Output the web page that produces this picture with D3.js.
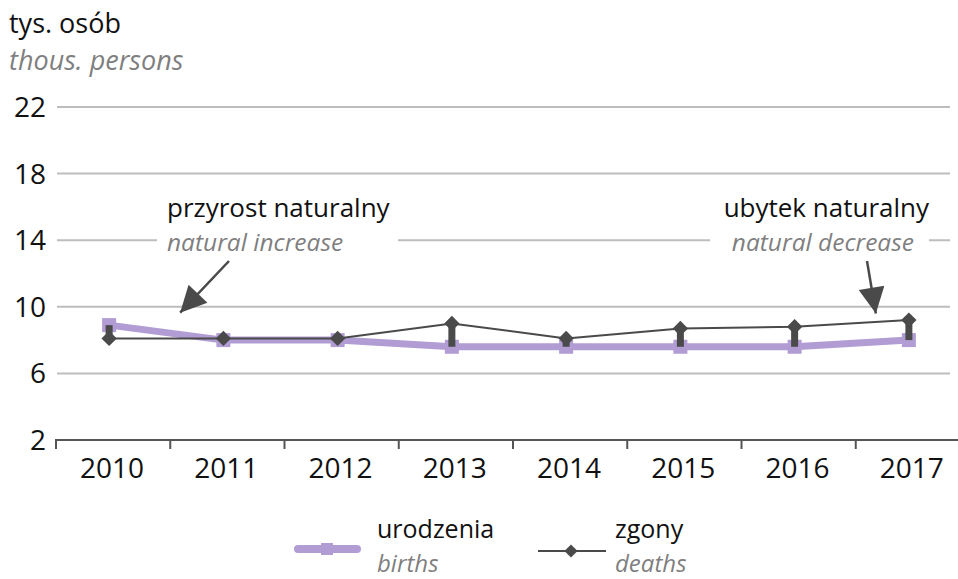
<!DOCTYPE html>
<html>
<head>
<meta charset="utf-8">
<script src="https://cdn.jsdelivr.net/npm/d3@7"></script>
<style>
  html, body { margin: 0; padding: 0; background: #fff; }
  svg text { font-family: "Open Sans", "Noto Sans", sans-serif; }
</style>
</head>
<body>
<svg id="chart" width="958" height="579"></svg>
<script>
// Births and deaths, thousands of persons
const years = ["2010", "2011", "2012", "2013", "2014", "2015", "2016", "2017"];
const births = [8.9, 8.0, 8.0, 7.6, 7.6, 7.6, 7.6, 8.0];
const deaths = [8.1, 8.1, 8.1, 9.0, 8.1, 8.7, 8.8, 9.2];
const yTicks = [2, 6, 10, 14, 18, 22];

const birthColor = "#b19dd4";
const deathColor = "#4a4a4a";
const gridColor = "#bdbdbd";
const grayText = "#7f7f7f";

const svg = d3.select("#chart");

const x = d3.scaleBand().domain(years).range([52, 966]);
const y = d3.scaleLinear().domain([2, 22]).range([440, 107]);
const cx = d => x(d) + x.bandwidth() / 2;

// Title
svg.append("text").attr("x", 9).attr("y", 33).attr("font-size", 27).attr("fill", "#111").text("tys. osób");
svg.append("text").attr("x", 9).attr("y", 70).attr("font-size", 27).attr("font-style", "italic").attr("fill", grayText).text("thous. persons");

// Horizontal gridlines (the baseline is drawn by the axis)
const grid = svg.append("g");
grid.selectAll("line").data(yTicks.filter(t => t !== 2)).join("line")
  .attr("x1", 57).attr("x2", 950)
  .attr("y1", d => y(d)).attr("y2", d => y(d))
  .attr("stroke", gridColor).attr("stroke-width", 2);

// Y tick labels
svg.append("g").selectAll("text").data(yTicks).join("text")
  .attr("x", 46).attr("y", d => y(d)).attr("dy", "0.36em")
  .attr("text-anchor", "end").attr("font-size", 28).attr("fill", "#111")
  .text(d => d);

// X axis along the baseline, ticks between categories
const xAxis = svg.append("g").attr("transform", `translate(0,${y(2)})`);
xAxis.append("line").attr("x1", 55).attr("x2", 958).attr("stroke", "#555").attr("stroke-width", 2);
xAxis.selectAll("line.tick").data(years).join("line").attr("class", "tick")
  .attr("x1", d => x(d) + 4).attr("x2", d => x(d) + 4)
  .attr("y1", 0).attr("y2", 9).attr("stroke", "#555").attr("stroke-width", 2);
xAxis.selectAll("text").data(years).join("text")
  .attr("x", d => cx(d) + 3).attr("y", 38)
  .attr("text-anchor", "middle").attr("font-size", 28).attr("fill", "#111")
  .text(d => d);

// Annotations with white backing to break the 14 gridline
const notes = [
  { pl: "przyrost naturalny", en: "natural increase", x: 167, anchor: "start", bg: [157, 398] },
  { pl: "ubytek naturalny", en: "natural decrease", x: 929, anchor: "end", bg: [710, 929] }
];
notes.forEach(n => {
  svg.append("rect").attr("x", n.bg[0]).attr("y", 228).attr("width", n.bg[1] - n.bg[0]).attr("height", 26).attr("fill", "#fff");
  svg.append("text").attr("x", n.x).attr("y", 217).attr("text-anchor", n.anchor)
    .attr("font-size", 26).attr("fill", "#111").text(n.pl);
  svg.append("text").attr("x", n.anchor === "end" ? n.x - 15 : n.x).attr("y", 251).attr("text-anchor", n.anchor)
    .attr("font-size", 24.5).attr("font-style", "italic").attr("fill", grayText).text(n.en);
});

// Arrows pointing at the gap between the lines
svg.append("defs").append("marker").attr("id", "arrowHead")
  .attr("viewBox", "0 0 10 10").attr("refX", 10).attr("refY", 5)
  .attr("markerWidth", 32).attr("markerHeight", 26).attr("markerUnits", "userSpaceOnUse")
  .attr("orient", "auto")
  .append("path").attr("d", "M0,0 L10,5 L0,10 Z").attr("fill", deathColor);
const arrows = [
  { x1: 229, y1: 261, year: "2010", dx: 71, v: 9.65 },
  { x1: 867, y1: 261, year: "2017", dx: -33, v: 9.6 }
];
svg.selectAll("line.arrow").data(arrows).join("line").attr("class", "arrow")
  .attr("x1", d => d.x1).attr("y1", d => d.y1)
  .attr("x2", d => cx(d.year) + d.dx)
  .attr("y2", d => y(d.v))
  .attr("stroke", deathColor).attr("stroke-width", 2.5)
  .attr("marker-end", "url(#arrowHead)");

// Births line
const line = (vals) => d3.line().x((d, i) => cx(years[i])).y(d => y(d))(vals);
svg.append("path").attr("d", line(births)).attr("fill", "none")
  .attr("stroke", birthColor).attr("stroke-width", 7);
svg.append("g").selectAll("rect").data(births).join("rect")
  .attr("x", (d, i) => cx(years[i]) - 7).attr("y", d => y(d) - 7)
  .attr("width", 14).attr("height", 14).attr("fill", birthColor);

// Drop bars between births and deaths
svg.append("g").selectAll("rect").data(years).join("rect")
  .attr("x", d => cx(d) - 3.5)
  .attr("y", (d, i) => y(Math.max(births[i], deaths[i])))
  .attr("width", 7)
  .attr("height", (d, i) => Math.abs(y(births[i]) - y(deaths[i])))
  .attr("fill", deathColor);

// Deaths line
svg.append("path").attr("d", line(deaths)).attr("fill", "none")
  .attr("stroke", deathColor).attr("stroke-width", 2);
svg.append("g").selectAll("path").data(deaths).join("path")
  .attr("d", d3.symbol(d3.symbolDiamond2, 150))
  .attr("transform", (d, i) => `translate(${cx(years[i])},${y(d)})`)
  .attr("fill", deathColor);

// Legend
const lg = svg.append("g");
lg.append("line").attr("x1", 298).attr("x2", 357).attr("y1", 549).attr("y2", 549)
  .attr("stroke", birthColor).attr("stroke-width", 8).attr("stroke-linecap", "round");
lg.append("rect").attr("x", 321).attr("y", 543).attr("width", 12).attr("height", 12).attr("fill", birthColor);
lg.append("text").attr("x", 377).attr("y", 538).attr("font-size", 25).attr("fill", "#111").text("urodzenia");
lg.append("text").attr("x", 377).attr("y", 572).attr("font-size", 24).attr("font-style", "italic").attr("fill", grayText).text("births");

lg.append("line").attr("x1", 538).attr("x2", 606).attr("y1", 551).attr("y2", 551)
  .attr("stroke", deathColor).attr("stroke-width", 2);
lg.append("path").attr("d", d3.symbol(d3.symbolDiamond2, 110)).attr("transform", "translate(571,551)").attr("fill", deathColor);
lg.append("text").attr("x", 615).attr("y", 538).attr("font-size", 25).attr("fill", "#111").text("zgony");
lg.append("text").attr("x", 615).attr("y", 572).attr("font-size", 24).attr("font-style", "italic").attr("fill", grayText).text("deaths");
</script>
</body>
</html>
